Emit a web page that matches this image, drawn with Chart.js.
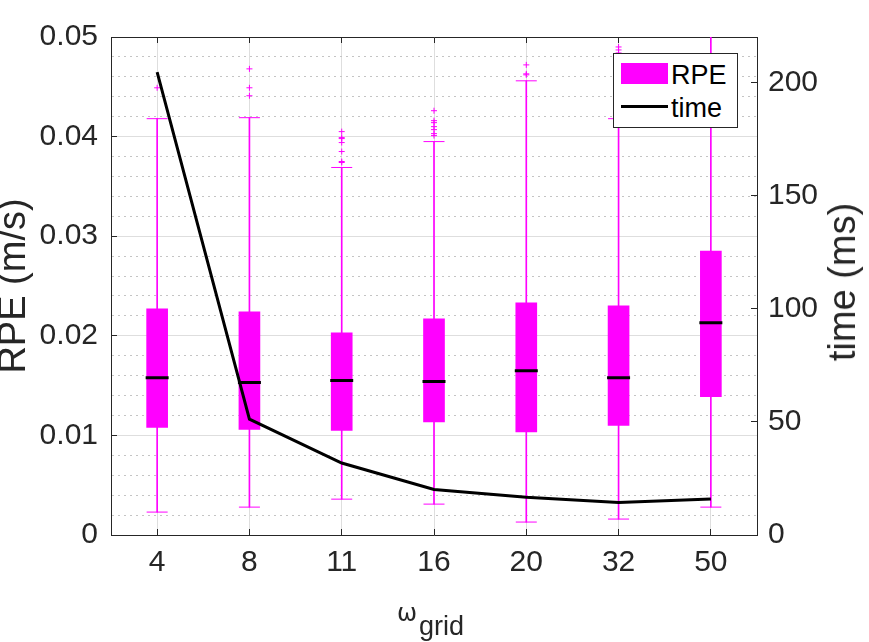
<!DOCTYPE html>
<html>
<head>
<meta charset="utf-8">
<script src="https://cdn.jsdelivr.net/npm/chart.js@4/dist/chart.umd.min.js"></script>
<style>
  html,body{margin:0;padding:0;background:#fff;}
  #wrap{position:relative;width:869px;height:642px;font-family:'Liberation Sans',Arial,sans-serif;color:#000;overflow:hidden;}
  #wrap canvas{position:absolute;left:0;top:0;}
  #legend{position:absolute;left:613px;top:53px;width:125px;height:75px;box-sizing:border-box;border:1px solid #262626;background:#fff;}
  #legend .sw{position:absolute;left:7px;}
  #legend .txt{position:absolute;left:57px;font-size:27px;line-height:27px;white-space:nowrap;}
  #yRightTitle{position:absolute;left:842px;top:282px;transform:translate(-50%,-50%) rotate(-90deg);font-size:38px;line-height:38px;white-space:nowrap;color:#262626;}
  .xt{position:absolute;white-space:nowrap;color:#262626;}
</style>
</head>
<body>
<div id="wrap">
  <canvas id="c" width="869" height="642"></canvas>
  <div id="legend"></div>
  <div id="yRightTitle">time (ms)</div>
  <span class="xt" style="left:397px;top:601px;font-family:'DejaVu Sans',sans-serif;font-size:24px;line-height:24px;">ω</span>
  <span class="xt" style="left:419px;top:613px;font-size:27px;line-height:27px;">grid</span>
</div>
<script>
(function(){
  // ---- data ----
  const categories = ['4','8','11','16','20','32','50'];
  const q1       = [0.0108, 0.0106, 0.0105, 0.01135, 0.01035, 0.0110, 0.0139];
  const q3       = [0.0227, 0.0224, 0.0203, 0.0217, 0.0233, 0.0230, 0.0285];
  const median   = [0.0158, 0.0153, 0.0155, 0.0154, 0.0165, 0.0158, 0.0213];
  const whiskLo  = [0.0023, 0.0028, 0.0036, 0.0031, 0.0013, 0.0016, 0.0028];
  const whiskHi  = [0.0418, 0.0419, 0.0369, 0.0395, 0.0456, 0.0418, 0.0520];
  const outliers = [
    [0.0449],
    [0.0468, 0.0449, 0.0441],
    [0.0405, 0.0399, 0.0398, 0.0394, 0.0385, 0.0375, 0.0374],
    [0.0426, 0.0416, 0.0414, 0.0410, 0.0407, 0.0403, 0.0401],
    [0.0472, 0.0463, 0.0462],
    [0.0490, 0.0487, 0.0484],
    []
  ];
  const timeMs   = [204.5, 51.2, 31.8, 20.1, 16.7, 14.4, 15.9];
  const seriesNames = ['RPE','time'];

  const MAG='#ff00ff', INK='#262626', GRID='#dedede', MINOR='#c4c4c4';
  const FONT="'Liberation Sans', Arial, sans-serif";
  Chart.defaults.font.family = FONT;
  Chart.defaults.color = INK;

  const boxes   = categories.map((c,i)=>[q1[i], q3[i]]);
  const whisk   = categories.map((c,i)=>[whiskLo[i], whiskHi[i]]);
  const outPts  = [];
  outliers.forEach((arr,i)=>arr.forEach(v=>outPts.push({x:categories[i], y:v})));

  const isMinor = v => Math.abs(v*100 - Math.round(v*100)) > 1e-6;
  const tickOf = c => (c && c.tick) ? c.tick.value : null;

  const pt = (extra) => Object.assign({type:'line', xAxisID:'x', yAxisID:'y', showLine:false, pointHoverRadius:0}, extra);

  new Chart(document.getElementById('c'), {
    type:'bar',
    data:{
      labels:categories,
      datasets:[
        {type:'line', label:seriesNames[1], data:timeMs, xAxisID:'x', yAxisID:'y2', borderColor:'#000', borderWidth:3,
         pointRadius:0, tension:0, order:1},
        pt({label:'median', data:median, pointStyle:'line', pointRadius:11.5, pointBorderWidth:3,
            pointBorderColor:'#000', borderColor:'#000', order:2}),
        pt({label:'outliers', data:outPts, pointStyle:'cross', pointRadius:3, pointBorderWidth:1,
            pointBorderColor:MAG, borderColor:MAG, order:3}),
        {type:'bar', label:seriesNames[0], data:boxes, xAxisID:'x', yAxisID:'y', backgroundColor:MAG,
         barThickness:21, grouped:false, order:4},
        pt({label:'capLo', data:whiskLo, pointStyle:'line', pointRadius:10.5, pointBorderWidth:1,
            pointBorderColor:MAG, borderColor:MAG, clip:0, order:5}),
        pt({label:'capHi', data:whiskHi, pointStyle:'line', pointRadius:10.5, pointBorderWidth:1,
            pointBorderColor:MAG, borderColor:MAG, clip:0, order:5}),
        {type:'bar', label:'whisker', data:whisk, xAxisID:'x', yAxisID:'y', backgroundColor:MAG,
         barThickness:1, grouped:false, clip:0, order:6}
      ]
    },
    options:{
      responsive:false, animation:false, events:[],
      layout:{padding:{top:34,left:0,right:0,bottom:0}},
      plugins:{legend:{display:false}, tooltip:{enabled:false}},
      scales:{
        x:{type:'category', position:'bottom', offset:true,
           grid:{offset:false, color:GRID, lineWidth:1, tickLength:-6, tickColor:INK},
           border:{color:INK, width:1},
           ticks:{padding:16, maxRotation:0, font:{size:30}, color:INK},
           afterFit:s=>{s.height=107;}},
        xTop:{type:'category', position:'top', offset:true,
           grid:{offset:false, drawOnChartArea:false, tickLength:-6, tickColor:INK},
           border:{color:INK, width:1},
           ticks:{display:false},
           afterFit:s=>{s.height=0;}},
        y:{type:'linear', position:'left', min:0, max:0.05,
           ticks:{stepSize:0.002, autoSkip:false, padding:19, font:{size:30}, color:INK,
                  callback:v=>isMinor(v)?'':(v===0?'0':v.toFixed(2))},
           grid:{lineWidth:1, tickLength:-6,
                 color:c=>{const v=tickOf(c);return v!==null&&isMinor(v)?MINOR:GRID;},
                 tickColor:c=>{const v=tickOf(c);return v!==null&&isMinor(v)?'rgba(0,0,0,0)':INK;}},
           border:{color:INK, width:1,
                 dash:c=>{const v=tickOf(c);return v!==null&&isMinor(v)?[2,4]:[];}},
           title:{display:true, text:'RPE (m/s)', font:{size:38, lineHeight:0.75}, padding:{top:0,bottom:0}, color:INK},
           afterFit:s=>{s.width=111;}},
        y2:{type:'linear', position:'right', min:0, max:220,
           ticks:{stepSize:50, includeBounds:false, padding:17, font:{size:30}, color:INK},
           grid:{drawOnChartArea:false, tickLength:-6, tickColor:INK},
           border:{color:INK, width:1},
           afterFit:s=>{s.width=112;}}
      }
    }
  });

  // legend (inside the axes, top right)
  const lg=document.getElementById('legend');
  lg.innerHTML=
    `<div class="sw" style="top:9px;width:47px;height:21px;background:${MAG}"></div>`+
    `<div class="txt" style="top:7.5px">${seriesNames[0]}</div>`+
    `<div class="sw" style="top:51px;width:47px;height:3px;background:#000"></div>`+
    `<div class="txt" style="top:41px">${seriesNames[1]}</div>`;
})();
</script>
</body>
</html>
